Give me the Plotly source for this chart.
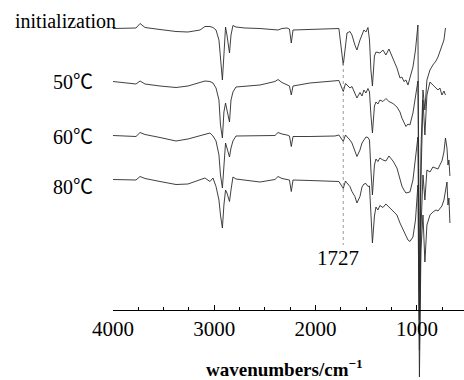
import plotly.graph_objects as go

# Wavenumbers (cm^-1) shared by all spectra
wavenumbers = [4000, 3880, 3773, 3733, 3684, 3536, 3378, 3260, 3141, 3092, 3043, 3013, 2983, 2954, 2939,
               2920, 2905, 2889, 2875, 2850, 2835, 2816, 2786, 2697, 2549, 2401, 2371, 2332, 2283, 2258,
               2240, 2223, 2056, 1809, 1770, 1727, 1705, 1690, 1661, 1641, 1612, 1592, 1562, 1542, 1523,
               1503, 1483, 1468, 1454, 1439, 1419, 1404, 1385, 1365, 1335, 1306, 1276, 1236, 1197, 1167,
               1148, 1128, 1108, 1088, 1069, 1039, 1014, 990, 975, 960, 940, 921, 901, 871, 842,
               812, 792, 773, 753, 733, 718, 703, 693, 684, 674]

# Relative absorption depth (a.u., larger = lower on chart) for each spectrum
init_vals = [0, 0, -0.5, -5, -1, 1, 3, 3.5, 1.5, -2, -2, -1, 1.5, 11.5, 31.5,
             51.5, 26.5, -1.5, 6.5, 24.5, 6.5, -3, -1.5, -0.5, 0, 1, 1.5, 0, -0.5, 0.5,
             14.5, 1.5, 1, 0.5, 0, 36.5, 13.5, 4.5, 3, 6.5, 16.5, 21.5, 11.5, 6.5, 1.5,
             3.5, -1, 11.5, 41.5, 57.5, 27.5, 23.5, 24, 24.5, 21.5, 26.5, 20.5, 29.5, 39.5, 49.5,
             48.5, 53, 51.5, 56.5, 49.5, 38.5, 21.5, -3.5, 261.5, 121.5, 61.5, 81.5, 51.5, 41.5, 36.5,
             32.5, 28.5, 23.5, 18.5, 11.5, -0.5, None, None, None, None]

t50_vals = [0, 1, 2.5, -0.5, 2.5, 4.5, 6, 4.5, 1.5, -0.5, 0, 1.5, 6.5, 18.5, 43.5,
            56.5, 30.5, 21.5, 28.5, 40.5, 18.5, 10.5, 5.5, 4.5, 3.5, 0, -2, 1, 3.5, 4.5,
            13.5, 4.5, 1.5, -1, -1, 10, 2, 3.5, 6.5, 5, 11.5, 16.5, 11, 14.5, 8.5,
            11.5, 7, 10.5, 33.5, 51.5, 24.5, 20.5, 22.5, 18.5, 20, 17, 20, 22, 25.5, 30.5,
            36.5, 41.5, 45, 42.5, 43.5, 31.5, 13.5, -0.5, 238.5, 98.5, 18.5, 53.5, 13.5, 0.5, 3.5,
            6.5, 8.5, 6.5, 13.5, 9.5, 13.5, None, None, None, None]

t60_vals = [0, 0.5, 1, -3, -1, 2, 5.5, 3.5, 0.5, -1.5, -2.5, 0.5, 5.5, 19.5, 39.5,
            52.5, 24.5, 7.5, 12.5, 21.5, 12.5, 5.5, 0.5, 0.5, 0.5, 0, -3, -1.5, -0.5, 0.5,
            11, 1, 1, 0.5, -0.5, 6, -0.5, 1, 4.5, 7.5, 15.5, 21, 14.5, 7.5, 4.5,
            1.5, 2, 4.5, 34.5, 59.5, 29.5, 23.5, 26, 22.5, 24.5, 25.5, 20.5, 25.5, 32.5, 44.5,
            50.5, 54.5, 57.5, 57, 56.5, 44.5, 24.5, 1.5, 214.5, 94.5, 39.5, 64.5, 34.5, 36.5, 31.5,
            32.5, 33.5, 29.5, 25.5, 16.5, 2.5, 12.5, 29.5, 24.5, 40.5]

t80_vals = [0, 0.5, 0.5, -3, -1, 2, 5, 4.5, 0.5, -1.5, 2, -1.5, 7, 20.5, 35.5,
            48.5, 25.5, 10.5, 13.5, 22, 10.5, -2.5, -0.5, 0.5, 2.5, 0, -3, -1, 0, 0.5,
            12, 0.5, 1, 2, 2, 9, 1.5, 3.5, 7, 12, 17, 23.5, 17, 7.5, 4.5,
            4, 7, 6.5, 30.5, 63.5, 36.5, 27.5, 30.5, 26, 28, 24.5, 27.5, 31.5, 35.5, 43.5,
            47.5, 52.5, 56.5, 60.5, 62, 57.5, 40.5, 5.5, 197.5, 70.5, 35.5, 82.5, 45.5, 35.5, 32.5,
            30.5, 31.5, 28.5, 26.5, 20.5, 10.5, 2.5, 25.5, 18.5, 43.5]

series_names = ["initialization", "50℃", "60℃", "80℃"]
series_vals = [init_vals, t50_vals, t60_vals, t80_vals]
stack_offsets = [28.5, 81.5, 135.5, 179.5]

marked_peak = 1727
marked_peak_label = "1727"

x_tickvals = [4000, 3000, 2000, 1000]
x_ticktext = ["4000", "3000", "2000", "1000"]

SERIF = "Liberation Serif, Times New Roman, Noto Sans CJK SC, serif"

fig = go.Figure()
for name, vals, off in zip(series_names, series_vals, stack_offsets):
    fig.add_trace(go.Scatter(
        x=wavenumbers,
        y=[None if v is None else v + off for v in vals],
        mode="lines", name=name,
        line=dict(color="#2a2a2a", width=0.9),
        connectgaps=False, showlegend=False, hoverinfo="skip",
    ))

# dotted marker line at the carbonyl peak
fig.add_shape(type="line", xref="x", yref="y",
              x0=marked_peak, x1=marked_peak, y0=63, y1=245,
              line=dict(color="#9a9a9a", width=1, dash="dot"))

fig.add_annotation(x=marked_peak, y=258, xref="x", yref="y", xshift=-5,
                   text=marked_peak_label, showarrow=False,
                   font=dict(family=SERIF, size=21, color="black"))

label_pos = [(-0.1353, 0.9447), (-0.114, 0.7842), (-0.114, 0.6395), (-0.114, 0.5079)]
for name, (px, py) in zip(series_names, label_pos):
    fig.add_annotation(x=px, y=py, xref="paper", yref="paper", text=name,
                       showarrow=False, xanchor="center", yanchor="middle",
                       font=dict(family=SERIF, size=20, color="black"))

fig.add_annotation(x=0.49, y=0.032, xref="paper", yref="paper",
                   text="<b>wavenumbers/cm<sup>−1</sup></b>", showarrow=False,
                   xanchor="center", yanchor="middle",
                   font=dict(family=SERIF, size=19, color="black"))

fig.update_layout(
    width=464, height=380,
    margin=dict(l=113, r=0, t=0, b=0, autoexpand=False),
    paper_bgcolor="white", plot_bgcolor="white",
    xaxis=dict(range=[4000, 535], autorange=False, anchor="free", position=0.1842,
               automargin=False,
               showline=True, linecolor="black", linewidth=1,
               showgrid=False, zeroline=False,
               tickvals=x_tickvals, ticktext=x_ticktext,
               ticks="inside", ticklen=5, tickcolor="black", tickwidth=1,
               minor=dict(dtick=250, tick0=0, ticks="inside", ticklen=3,
                          tickcolor="black", tickwidth=1, showgrid=False),
               tickfont=dict(family=SERIF, size=21, color="black")),
    yaxis=dict(range=[380, 0], autorange=False, visible=False, automargin=False,
               showgrid=False, zeroline=False),
)

fig.write_html("out.html", config={"displayModeBar": False},
               post_script="document.body.style.margin='0';")
